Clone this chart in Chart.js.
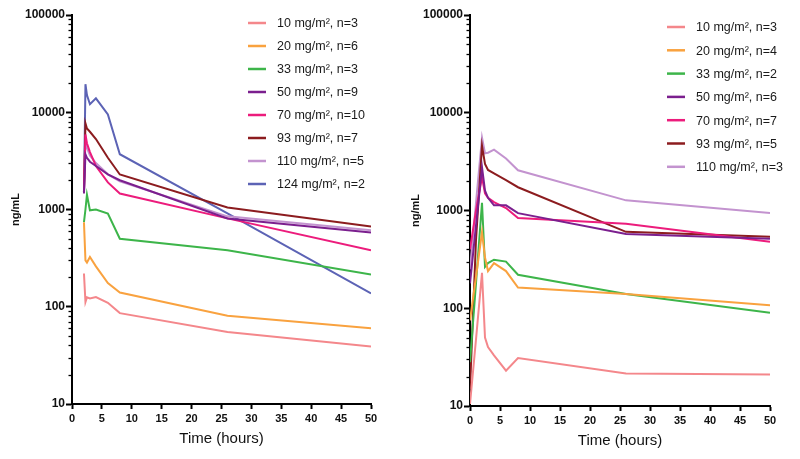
<!DOCTYPE html>
<html>
<head>
<meta charset="utf-8">
<script src="https://cdn.jsdelivr.net/npm/chart.js@4.4.1/dist/chart.umd.min.js"></script>
<style>
	html, body { margin: 0; padding: 0; background: #fff; }
	#wrap { position: relative; width: 800px; height: 459px; }
	.panel { position: absolute; top: 0; width: 400px; height: 459px; }
</style>
</head>
<body>
<div id="wrap">
	<div class="panel" style="left:0"><canvas id="left-graph"></canvas></div>
	<div class="panel" style="left:400px"><canvas id="right-graph"></canvas></div>
</div>
<script>
// left panel: sampling times (hours) and concentrations (ng/mL)
const leftTimes = [2, 2.25, 2.5, 3, 4, 6, 8, 26, 50];
const left10 = [220, 112, 125, 122, 126, 110, 86, 55, 39];
const left20 = [740, 300, 285, 325, 260, 175, 140, 81, 60];
const left33 = [740, 1000, 1420, 980, 1000, 910, 500, 380, 215];
const left50 = [1460, 3700, 3400, 3100, 2800, 2300, 2000, 810, 580];
const left70 = [1500, 5900, 4800, 3900, 2800, 1900, 1460, 810, 380];
const left93 = [1500, 7700, 6800, 6300, 5300, 3400, 2290, 1050, 670];
const left110 = [1500, 5000, 4300, 3600, 3000, 2300, 1950, 850, 610];
const left124 = [1500, 19400, 15000, 12100, 13900, 9500, 3700, 910, 137];
const leftLabels = ["10 mg/m², n=3", "20 mg/m², n=6", "33 mg/m², n=3", "50 mg/m², n=9",
	"70 mg/m², n=10", "93 mg/m², n=7", "110 mg/m², n=5", "124 mg/m², n=2"];

// right panel
const rightTimes = [0, 1, 2, 2.5, 3, 4, 6, 8, 26, 50];
const right10 = [10.5, 48, 230, 50, 40, 33, 23, 31, 21.5, 21];
const right20 = [75, 210, 600, 330, 240, 290, 240, 163, 140, 107];
const right33 = [28, 180, 1200, 265, 290, 314, 300, 220, 140, 90];
const right50 = [180, 700, 2770, 1600, 1350, 1130, 1130, 940, 575, 515];
const right70 = [400, 1000, 2200, 1500, 1350, 1220, 1060, 840, 730, 480];
const right93 = [15, 500, 4600, 3000, 2600, 2400, 2050, 1730, 605, 540];
const right110 = [250, 1200, 5560, 3850, 3900, 4200, 3400, 2580, 1270, 940];
const rightLabels = ["10 mg/m², n=3", "20 mg/m², n=4", "33 mg/m², n=2", "50 mg/m², n=6",
	"70 mg/m², n=7", "93 mg/m², n=5", "110 mg/m², n=3"];

const doseColors = ["#F4878B", "#F9A23F", "#3DB54A", "#7B1F8E", "#EC1C7C", "#8C1C1F", "#C393CF", "#5C63B5"];
const yTickValues = [10, 100, 1000, 10000, 100000];
const xTicks = [0, 5, 10, 15, 20, 25, 30, 35, 40, 45, 50];

Chart.defaults.font.family = "'Liberation Sans', Arial, sans-serif";
Chart.defaults.color = "#111";

const isDecade = (v) => yTickValues.includes(Math.round(v));

// legend drawn inside the plot, one short line + text per dataset
const doseLegend = {
	id: "doseLegend",
	afterDraw(chart, args, opts) {
		const ctx = chart.ctx;
		ctx.save();
		ctx.font = "12.5px 'Liberation Sans', Arial, sans-serif";
		ctx.textBaseline = "middle";
		ctx.fillStyle = "#1a1a1a";
		chart.data.datasets.forEach((ds, i) => {
			const y = opts.y + i * opts.gap;
			ctx.strokeStyle = ds.borderColor;
			ctx.lineWidth = 2.5;
			ctx.beginPath();
			ctx.moveTo(opts.x, y);
			ctx.lineTo(opts.x + 18, y);
			ctx.stroke();
			ctx.fillText(ds.label, opts.x + 29, y + 1);
		});
		ctx.restore();
	},
};

// short minor ticks on the log axis
const minorTicks = {
	id: "minorTicks",
	afterDraw(chart) {
		const scale = chart.scales.y;
		const ctx = chart.ctx;
		ctx.save();
		ctx.strokeStyle = "#000";
		ctx.lineWidth = 1.3;
		scale.ticks.forEach((t) => {
			if (isDecade(t.value)) return;
			const y = Math.round(scale.getPixelForValue(t.value)) + 0.5;
			ctx.beginPath();
			ctx.moveTo(scale.right - 3.5, y);
			ctx.lineTo(scale.right, y);
			ctx.stroke();
		});
		ctx.restore();
	},
};

function makeDatasets(times, series, labels) {
	return series.map((values, i) => ({
		label: labels[i],
		data: times.map((t, j) => ({ x: t, y: values[j] })),
		borderColor: doseColors[i],
		backgroundColor: doseColors[i],
		borderWidth: 2,
		pointRadius: 0,
		tension: 0,
	}));
}

function makeChart(canvasId, datasets, area, legendPos) {
	return new Chart(document.getElementById(canvasId), {
		type: "line",
		data: { datasets: datasets },
		plugins: [doseLegend, minorTicks],
		options: {
			responsive: true,
			maintainAspectRatio: false,
			animation: false,
			layout: {
				padding: { left: 0, top: 15, right: 400 - area.right, bottom: 0 },
			},
			plugins: {
				legend: { display: false },
				tooltip: { enabled: false },
				doseLegend: legendPos,
			},
			scales: {
				x: {
					type: "linear",
					min: 0,
					max: 50,
					afterBuildTicks: (scale) => {
						scale.ticks = xTicks.map((v) => ({ value: v }));
					},
					afterFit: (scale) => {
						scale.height = 459 - area.bottom;
					},
					border: { color: "#000", width: 2 },
					grid: {
						drawOnChartArea: false,
						tickLength: 5,
						tickColor: "#000",
						tickWidth: 2,
					},
					ticks: {
						padding: 3,
						maxRotation: 0,
						font: { size: 11, weight: "bold" },
						color: "#111",
					},
					title: {
						display: true,
						text: "Time (hours)",
						font: { size: 15 },
						color: "#111",
						padding: { top: 0, bottom: area.titleBottom },
					},
				},
				y: {
					type: "logarithmic",
					min: 10,
					max: 100000,
					afterBuildTicks: (scale) => {
						const ticks = [];
						yTickValues.forEach((d) => {
							for (let m = 1; m <= 9; m++) {
								if (d * m <= 100000) ticks.push({ value: d * m, major: m === 1 });
							}
						});
						scale.ticks = ticks;
					},
					afterFit: (scale) => {
						scale.width = area.left;
					},
					border: { color: "#000", width: 2 },
					grid: {
						drawOnChartArea: false,
						tickLength: 6,
						tickWidth: 2,
						tickColor: (ctx) => (ctx.tick && isDecade(ctx.tick.value) ? "#000" : "rgba(0,0,0,0)"),
					},
					ticks: {
						autoSkip: false,
						padding: 1,
						font: { size: 12, weight: "bold" },
						color: "#111",
						callback: (v) => (isDecade(v) ? String(Math.round(v)) : ""),
					},
					title: {
						display: true,
						text: "ng/mL",
						font: { size: 11, weight: "bold" },
						color: "#111",
						padding: { top: 9.5, bottom: 0 },
					},
				},
			},
		},
	});
}

makeChart(
	"left-graph",
	makeDatasets(leftTimes, [left10, left20, left33, left50, left70, left93, left110, left124], leftLabels),
	{ left: 72, right: 371, bottom: 404, titleBottom: 11 },
	{ x: 248, y: 23, gap: 23 }
);

makeChart(
	"right-graph",
	makeDatasets(rightTimes, [right10, right20, right33, right50, right70, right93, right110], rightLabels),
	{ left: 70, right: 370, bottom: 406, titleBottom: 9 },
	{ x: 267, y: 27, gap: 23.3 }
);
</script>
</body>
</html>
